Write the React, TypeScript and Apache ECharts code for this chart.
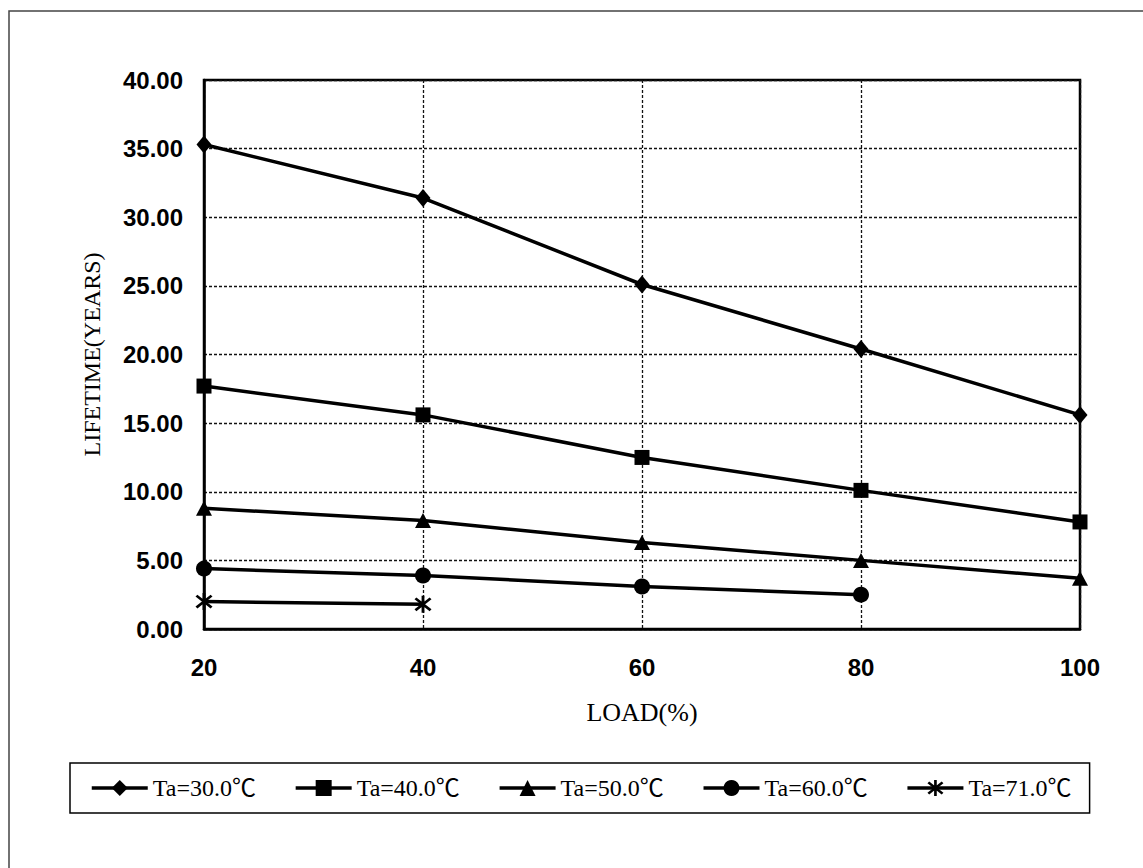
import React, { useEffect, useRef } from "react";
import * as echarts from "echarts";

const loads = [20, 40, 60, 80, 100];
const seriesNames = ["Ta=30.0℃", "Ta=40.0℃", "Ta=50.0℃", "Ta=60.0℃", "Ta=71.0℃"];
const ta30 = [35.3, 31.4, 25.1, 20.4, 15.6];
const ta40 = [17.7, 15.6, 12.5, 10.1, 7.8];
const ta50 = [8.8, 7.9, 6.3, 5.0, 3.7];
const ta60 = [4.4, 3.9, 3.1, 2.5, null];
const ta71 = [2.0, 1.8, null, null, null];
const yTicks = [0, 5, 10, 15, 20, 25, 30, 35, 40];

const asterisk =
  "path://M8.5 0L11.5 0L11.5 20L8.5 20Z M3.0 1.9L19.0 15.9L17.0 18.1L1.0 4.1Z M19.0 4.1L3.0 18.1L1.0 15.9L17.0 1.9Z";

const symbols: any[] = ["diamond", "rect", "triangle", "circle", asterisk];
const symbolSizes: any[] = [[15, 18], 15, [16, 15], 16, 17];
const allValues = [ta30, ta40, ta50, ta60, ta71];

const SANS = "'Liberation Sans', Arial, sans-serif";
const SERIF = "'Liberation Serif', 'Times New Roman', 'Noto Sans CJK JP', serif";

export default function App() {
  const ref = useRef<HTMLDivElement>(null);
  useEffect(() => {
    if (!ref.current) return;
    const chart = echarts.init(ref.current, null, { renderer: "svg" });
    const series = allValues.map((vals, i) => ({
      name: seriesNames[i],
      type: "line",
      data: loads
        .map((x, j) => (vals[j] === null ? null : [x, vals[j]]))
        .filter((d) => d !== null),
      symbol: symbols[i],
      symbolSize: symbolSizes[i],
      showAllSymbol: true,
      color: "#000",
      itemStyle: { color: "#000" },
      lineStyle: { color: "#000", width: 3.5 },
      z: 5,
    }));
    chart.setOption({
      animation: false,
      backgroundColor: "#fff",
      graphic: [
        {
          type: "rect",
          shape: { x: 9, y: 11, width: 1300, height: 1000 },
          style: { fill: "none", stroke: "#444", lineWidth: 1.5 },
          silent: true,
        },
      ],
      grid: {
        left: 204,
        top: 80,
        right: 63,
        bottom: 239,
        show: true,
        borderColor: "#000",
        borderWidth: 2.5,
        backgroundColor: "transparent",
      },
      legend: {
        left: 70,
        top: 763,
        orient: "horizontal",
        padding: [13, 18, 13, 20],
        itemGap: 38,
        itemWidth: 56,
        itemHeight: 20,
        borderColor: "#000",
        borderWidth: 1.5,
        data: seriesNames,
        lineStyle: { width: 3.5, color: "#000" },
        textStyle: { fontFamily: SERIF, fontSize: 24, color: "#000" },
      },
      xAxis: {
        type: "value",
        min: 20,
        max: 100,
        interval: 20,
        name: "LOAD(%)",
        nameLocation: "middle",
        nameGap: 70,
        nameTextStyle: { fontFamily: SERIF, fontSize: 26, color: "#000" },
        axisLine: { show: true, lineStyle: { color: "#000", width: 2.5 } },
        axisTick: { show: false },
        axisLabel: {
          margin: 26,
          fontFamily: SANS,
          fontWeight: "bold",
          fontSize: 24,
          color: "#000",
        },
        splitLine: {
          show: true,
          lineStyle: { color: "#111", width: 1.3, type: [3, 2] },
        },
      },
      yAxis: {
        type: "value",
        min: yTicks[0],
        max: yTicks[yTicks.length - 1],
        interval: 5,
        name: "LIFETIME(YEARS)",
        nameLocation: "middle",
        nameGap: 100,
        nameRotate: 90,
        nameTextStyle: { fontFamily: SERIF, fontSize: 24, color: "#000" },
        axisLine: { show: true, lineStyle: { color: "#000", width: 2.5 } },
        axisTick: { show: false },
        axisLabel: {
          margin: 21,
          fontFamily: SANS,
          fontWeight: "bold",
          fontSize: 24,
          color: "#000",
          formatter: (v: number) => v.toFixed(2),
        },
        splitLine: {
          show: true,
          lineStyle: { color: "#111", width: 1.3, type: [3, 2] },
        },
      },
      series,
    });
    return () => chart.dispose();
  }, []);
  return (
    <div
      ref={ref}
      style={{ position: "fixed", left: 0, top: 0, width: 1143, height: 868 }}
    />
  );
}
